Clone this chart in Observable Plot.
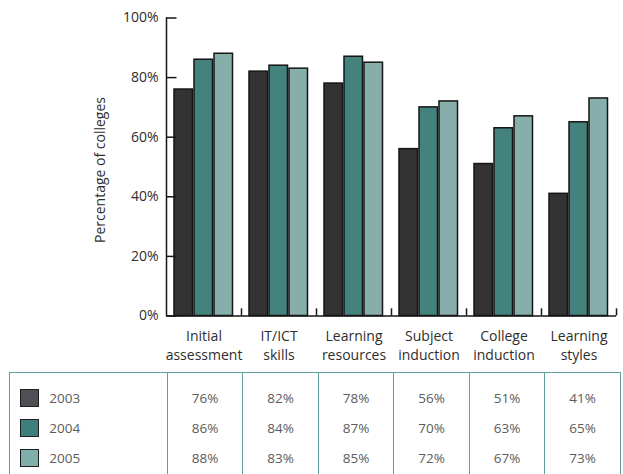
<!DOCTYPE html>
<html>
<head>
<meta charset="utf-8">
<script src="https://cdn.jsdelivr.net/npm/d3@7"></script>
<script src="https://cdn.jsdelivr.net/npm/@observablehq/plot@0.6"></script>
<style>
  html, body { margin: 0; padding: 0; overflow: hidden; background: #fff; }
  #wrap { position: relative; width: 623px; height: 474px; font-family: "Open Sans", sans-serif; }
  #chart svg { display: block; }
  table.data {
    position: absolute; left: 9.25px; top: 372px;
    border-collapse: collapse; table-layout: fixed; width: 610.5px;
    font-family: "Open Sans", sans-serif; font-size: 13.5px; color: #5c5c5c;
  }
  table.data td {
    border-left: 1.5px solid #629e9b; border-right: 1.5px solid #629e9b;
    border-top: 1.5px solid #629e9b;
    padding: 9.5px 0 20px 0; vertical-align: top; text-align: center;
  }
  table.data td div { height: 30px; line-height: 30px; white-space: nowrap; }
  table.data td.legend { text-align: left; padding-left: 10px; }
  .swatch {
    display: inline-block; width: 17px; height: 16px; border: 1px solid #1e1e1e;
    vertical-align: middle; margin-right: 10px; position: relative; top: -1px;
  }
</style>
</head>
<body>
<div id="wrap">
  <div id="chart"></div>
</div>
<script>
// Share of colleges offering each type of induction/assessment, by year
const categories = ["Initial assessment", "IT/ICT skills", "Learning resources", "Subject induction", "College induction", "Learning styles"];
const categoryLabels = ["Initial\nassessment", "IT/ICT\nskills", "Learning\nresources", "Subject\ninduction", "College\ninduction", "Learning\nstyles"];
const years = ["2003", "2004", "2005"];
const values2003 = [76, 82, 78, 56, 51, 41];
const values2004 = [86, 84, 87, 70, 63, 65];
const values2005 = [88, 83, 85, 72, 67, 73];
const yTicks = [0, 20, 40, 60, 80, 100];

const seriesByYear = [values2003, values2004, values2005];
const barColors = ["#333333", "#44827e", "#86afac"];
const swatchColors = ["#4f5055", "#3f7f7b", "#80aeaa"];
const ink = "#151515";

const rows = years.flatMap((year, j) =>
  categories.map((category, i) => ({category, year, value: seriesByYear[j][i]}))
);

// one bar mark per year, each offset inside the category band
const bars = years.map((year, j) =>
  Plot.barY(rows.filter(r => r.year === year), {
    x: "category",
    y: "value",
    fill: barColors[j],
    stroke: ink,
    strokeWidth: 1.5,
    insetLeft: 8 + 20 * j,
    insetRight: 48.5 - 20 * j
  })
);

const chart = Plot.plot({
  width: 623,
  height: 372,
  marginLeft: 166,
  marginRight: 7,
  marginTop: 17.5,
  marginBottom: 56.5,
  style: {fontFamily: "'Open Sans', sans-serif", fontSize: "14px", color: "#2e2e2e", background: "#fff", overflow: "visible"},
  x: {domain: categories, padding: 0},
  y: {domain: [0, 100]},
  marks: [
    ...bars,
    Plot.ruleY([0], {stroke: ink, strokeWidth: 1.5}),
    Plot.ruleX([categories[0]], {x: d => d, dx: -37.5, y1: 0, y2: 100, stroke: ink, strokeWidth: 1.5}),
    Plot.ruleX(categories, {x: d => d, dx: 37.5, y1: 0, y2: 2.4, stroke: ink, strokeWidth: 1.5}),
    Plot.tickY(yTicks, {y: d => d, insetRight: 439.5, stroke: ink, strokeWidth: 1.5}),
    Plot.axisY(yTicks, {tickSize: 0, tickPadding: 8, tickFormat: d => d + "%", fontSize: 14, label: null}),
    Plot.axisX({
      tickSize: 0,
      tickPadding: 11.5,
      fontSize: 14,
      lineHeight: 1.36,
      label: null,
      tickFormat: d => categoryLabels[categories.indexOf(d)]
    }),
    Plot.text(["Percentage of colleges"], {
      text: d => d, frameAnchor: "left", textAnchor: "middle",
      dx: -66, dy: 3, rotate: -90, fontSize: 14
    })
  ]
});
document.getElementById("chart").appendChild(chart);

// data table under the chart, columns aligned with the category bands
const table = document.createElement("table");
table.className = "data";
const colgroup = document.createElement("colgroup");
[157.5, ...categories.map(() => 75.5)].forEach(w => {
  const col = document.createElement("col");
  col.style.width = w + "px";
  colgroup.appendChild(col);
});
table.appendChild(colgroup);
const tr = document.createElement("tr");
const legendCell = document.createElement("td");
legendCell.className = "legend";
years.forEach((year, j) => {
  const line = document.createElement("div");
  const sw = document.createElement("span");
  sw.className = "swatch";
  sw.style.background = swatchColors[j];
  line.appendChild(sw);
  line.appendChild(document.createTextNode(year));
  legendCell.appendChild(line);
});
tr.appendChild(legendCell);
categories.forEach((c, i) => {
  const td = document.createElement("td");
  seriesByYear.forEach(series => {
    const line = document.createElement("div");
    line.textContent = series[i] + "%";
    td.appendChild(line);
  });
  tr.appendChild(td);
});
table.appendChild(tr);
document.getElementById("wrap").appendChild(table);
</script>
</body>
</html>
